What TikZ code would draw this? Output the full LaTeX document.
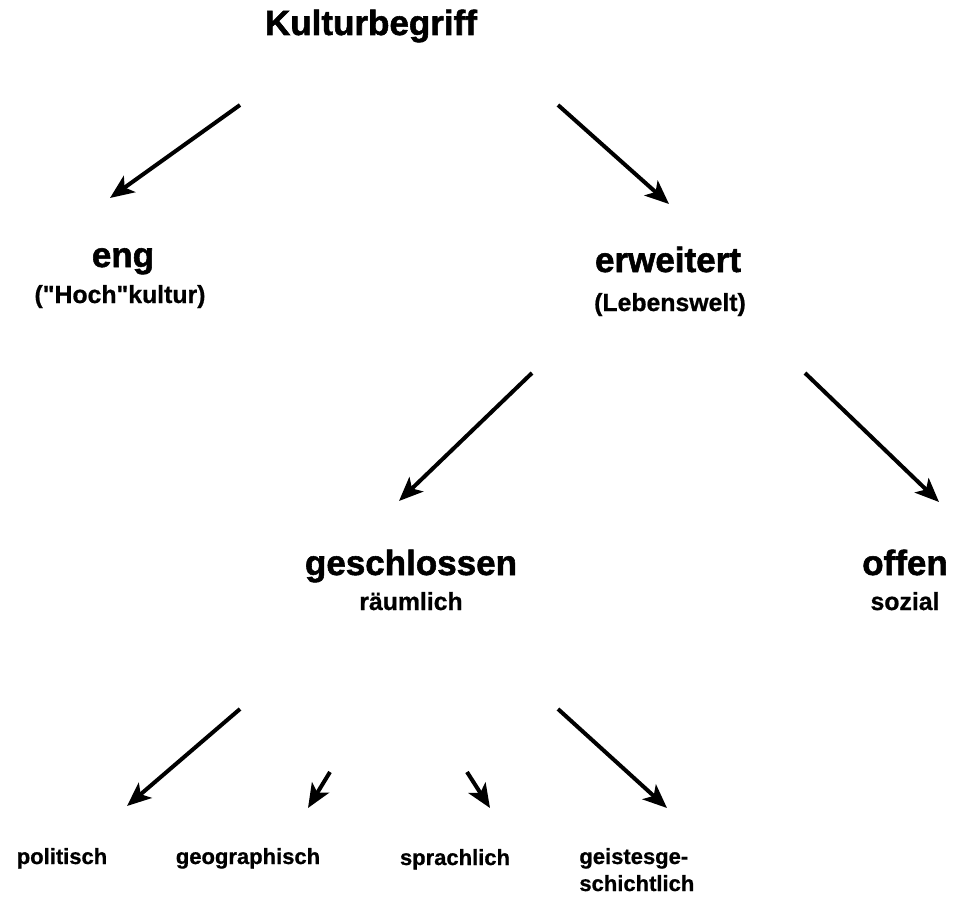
\documentclass[tikz,border=0pt]{standalone}
\usepackage{fontspec}
\setmainfont{Liberation Sans}
\newfontfamily\heavyfont[FakeBold=1.6]{Liberation Sans Bold}
\newfontfamily\medfont[FakeBold=0.8]{Liberation Sans Bold}
\usetikzlibrary{arrows.meta}
\tikzset{
  head/.style={font=\heavyfont\fontsize{17.5}{20}\selectfont, anchor=base, inner sep=0pt},
  sub/.style={font=\medfont\fontsize{12.4}{14}\selectfont, anchor=base, inner sep=0pt},
  leaf/.style={font=\medfont\fontsize{11}{13}\selectfont, anchor=base, inner sep=0pt},
  conn/.style={line width=2pt, -{Stealth[length=12pt, width=10pt, inset=3pt]}},
}
\begin{document}
\begin{tikzpicture}[x=0.5pt,y=-0.5pt]
\useasboundingbox (0,0) rectangle (953,899);
% labels
\node[head] (title) at (371,35) {Kulturbegriff};
\node[head] (eng) at (123,267) {eng};
\node[sub] (engsub) at (120,303) {(\char"0022 Hoch\char"0022 kultur)};
\node[head] (erw) at (668,272) {erweitert};
\node[sub] (erwsub) at (670,311) {(Lebenswelt)};
\node[head] (geschl) at (411,575) {geschlossen};
\node[sub] (geschlsub) at (411,610) {räumlich};
\node[head] (offen) at (905,575) {offen};
\node[sub] (offensub) at (905,610) {sozial};
\node[leaf] (pol) at (62,864) {politisch};
\node[leaf] (geo) at (248,864) {geographisch};
\node[leaf] (spr) at (455,865) {sprachlich};
\node[leaf, anchor=base west] (gei) at (579,864) {geistesge-};
\node[leaf, anchor=base west] (geib) at (579,891) {schichtlich};
% connector ends
\coordinate (a1s) at (240,105); \coordinate (a1e) at (110,198);
\coordinate (a2s) at (558,105); \coordinate (a2e) at (669,204);
\coordinate (a3s) at (532,373); \coordinate (a3e) at (399,501);
\coordinate (a4s) at (805,373); \coordinate (a4e) at (939,502);
\coordinate (a5s) at (240,709); \coordinate (a5e) at (127,806);
\coordinate (a6s) at (330,772); \coordinate (a6e) at (308,808);
\coordinate (a7s) at (467,772); \coordinate (a7e) at (490,808);
\coordinate (a8s) at (558,709); \coordinate (a8e) at (667,808);
\draw[conn] (a1s) -- (a1e);
\draw[conn] (a2s) -- (a2e);
\draw[conn] (a3s) -- (a3e);
\draw[conn] (a4s) -- (a4e);
\draw[conn] (a5s) -- (a5e);
\draw[conn] (a6s) -- (a6e);
\draw[conn] (a7s) -- (a7e);
\draw[conn] (a8s) -- (a8e);
\end{tikzpicture}
\end{document}
